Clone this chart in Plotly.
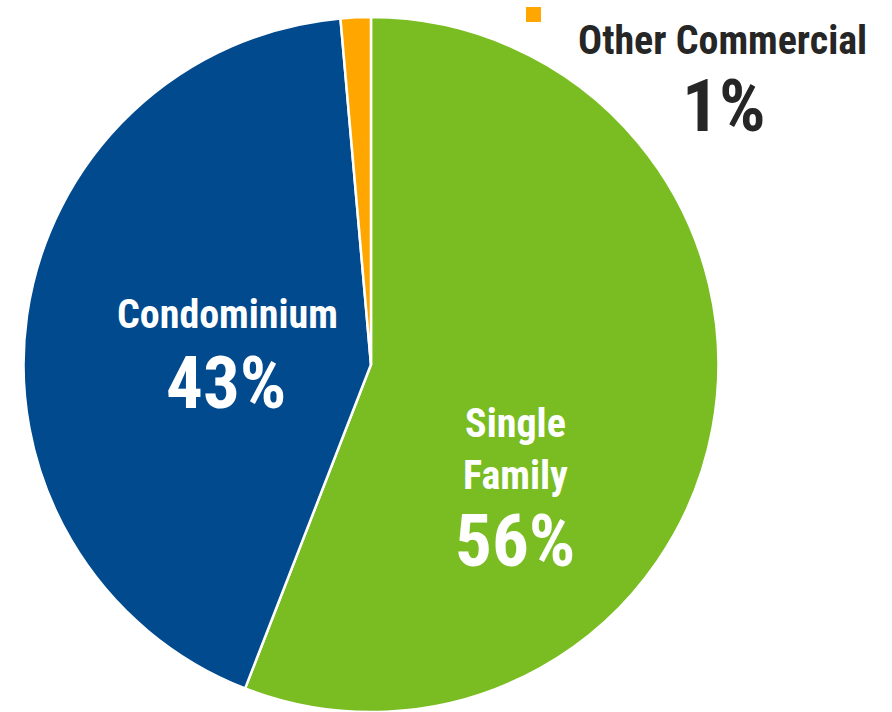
import plotly.graph_objects as go

labels = ["Single Family", "Condominium", "Other Commercial"]
label_lines = ["Single<br>Family", "Condominium", "Other Commercial"]
values = [55.9, 42.7, 1.4]
colors = ["#7ABD22", "#024A8E", "#FFA600"]

total = sum(values)
pcts = [f"{round(v / total * 100)}%" for v in values]

FONT = "Roboto Condensed, Liberation Sans Narrow, DejaVu Sans Condensed, Roboto, sans-serif"

fig = go.Figure(go.Pie(
    labels=labels,
    values=values,
    sort=False,
    direction="clockwise",
    rotation=0,
    marker=dict(colors=colors, line=dict(color="white", width=2.5)),
    textinfo="none",
    hoverinfo="label+percent",
    showlegend=False,
    domain=dict(x=[0.0258, 0.806], y=[0.0, 0.976]),
))

W, H = 892, 712
def px(x, y):
    return x / W, 1 - y / H

# label positions (pixel centres)
label_pos = [(515, 449), (227, 314), (722, 40)]
pct_pos = [(515, 541), (226, 383), (723, 106)]
label_colors = ["white", "white", "#262626"]

annotations = []
for i in range(len(labels)):
    lx, ly = px(*label_pos[i])
    annotations.append(dict(
        x=lx, y=ly, xref="paper", yref="paper", xanchor="center", yanchor="middle",
        text=label_lines[i], showarrow=False,
        font=dict(family=FONT, size=40, color=label_colors[i], weight="bold"),
    ))
    qx, qy = px(*pct_pos[i])
    annotations.append(dict(
        x=qx, y=qy, xref="paper", yref="paper", xanchor="center", yanchor="middle",
        text=pcts[i], showarrow=False,
        font=dict(family=FONT, size=73, color=label_colors[i], weight="bold"),
    ))

x0, y0 = px(526, 7)
x1, y1 = px(541, 22)
fig.update_layout(
    width=W, height=H,
    margin=dict(l=0, r=0, t=0, b=0),
    paper_bgcolor="white",
    plot_bgcolor="white",
    annotations=annotations,
    shapes=[dict(type="rect", xref="paper", yref="paper", x0=x0, y0=y1, x1=x1, y1=y0,
                 fillcolor=colors[2], line=dict(width=0))],
)

fig.write_html("out.html", config={"displayModeBar": False},
               post_script="document.body.style.margin='0';document.body.style.overflow='hidden';")
